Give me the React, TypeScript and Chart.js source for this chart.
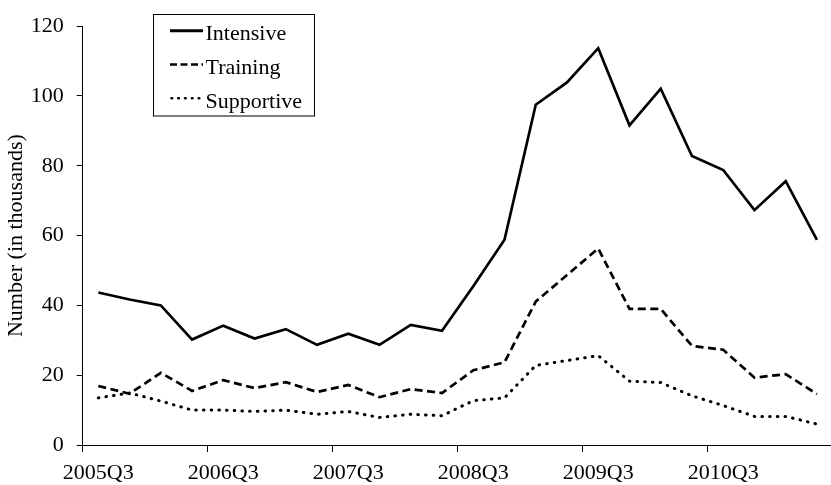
import React, { useEffect, useRef } from "react";
import { Chart, registerables } from "chart.js";

Chart.register(...registerables);

const quarters = [
  "2005Q3", "2005Q4", "2006Q1", "2006Q2", "2006Q3", "2006Q4", "2007Q1", "2007Q2",
  "2007Q3", "2007Q4", "2008Q1", "2008Q2", "2008Q3", "2008Q4", "2009Q1", "2009Q2",
  "2009Q3", "2009Q4", "2010Q1", "2010Q2", "2010Q3", "2010Q4", "2011Q1", "2011Q2",
];

const intensive = [
  43.7, 41.7, 40.0, 30.2, 34.2, 30.5, 33.2, 28.7, 31.9, 28.7, 34.4, 32.7,
  45.5, 58.8, 97.5, 103.9, 113.7, 91.6, 102.1, 82.8, 78.8, 67.3, 75.6, 58.8,
];
const training = [
  16.9, 14.7, 20.7, 15.5, 18.6, 16.3, 18.0, 15.2, 17.2, 13.7, 16.0, 14.9,
  21.4, 23.7, 41.1, 48.7, 56.3, 39.0, 39.0, 28.4, 27.3, 19.3, 20.3, 14.6,
];
const supportive = [
  13.5, 14.9, 12.6, 10.0, 10.0, 9.6, 10.0, 8.8, 9.6, 7.9, 8.8, 8.4,
  12.7, 13.5, 22.8, 24.2, 25.6, 18.3, 17.9, 14.1, 11.3, 8.2, 8.2, 6.0,
];

const xTickLabels = ["2005Q3", "2006Q3", "2007Q3", "2008Q3", "2009Q3", "2010Q3"];
const yTicks = [0, 20, 40, 60, 80, 100, 120];

const FONT = '"Liberation Serif", "Times New Roman", serif';

const legendPlugin = {
  id: "boxLegend",
  afterDraw(chart: any) {
    const ctx = chart.ctx as CanvasRenderingContext2D;
    ctx.save();
    ctx.strokeStyle = "#000";
    ctx.lineWidth = 1;
    ctx.setLineDash([]);
    ctx.strokeRect(153.5, 14.5, 161, 101.5);
    const legendDash = [[], [7, 3.5], [0.6, 6.2]];
    const legendCap = ["butt", "butt", "round"];
    chart.data.datasets.forEach((ds: any, i: number) => {
      const y = 30.7 + i * 33.8;
      ctx.beginPath();
      ctx.setLineDash(legendDash[i]);
      ctx.lineCap = legendCap[i] as CanvasLineCap;
      ctx.lineWidth = i === 0 ? 3 : 2.6;
      ctx.strokeStyle = "#000";
      ctx.moveTo(i === 2 ? 171.5 : 170, y);
      ctx.lineTo(203, y);
      ctx.stroke();
      ctx.setLineDash([]);
      ctx.fillStyle = "#000";
      ctx.font = `22px ${FONT}`;
      ctx.textBaseline = "alphabetic";
      ctx.textAlign = "left";
      ctx.fillText(ds.label, 205.5, y + 9.2);
    });
    ctx.restore();
  },
};

export default function App() {
  const canvasRef = useRef<HTMLCanvasElement | null>(null);

  useEffect(() => {
    document.body.style.margin = "0";
    const canvas = canvasRef.current!;
    const toPts = (arr: number[]) => arr.map((v, i) => ({ x: i, y: v }));
    const chart = new Chart(canvas, {
      type: "line",
      data: {
        labels: quarters,
        datasets: [
          {
            label: "Intensive",
            data: toPts(intensive),
            borderColor: "#000",
            borderWidth: 2.7,
            pointRadius: 0,
            tension: 0,
            fill: false,
          },
          {
            label: "Training",
            data: toPts(training),
            borderColor: "#000",
            borderWidth: 2.7,
            borderDash: [8, 4.5],
            pointRadius: 0,
            tension: 0,
            fill: false,
          },
          {
            label: "Supportive",
            data: toPts(supportive),
            borderColor: "#000",
            borderWidth: 3,
            borderDash: [0.6, 7.1],
            borderCapStyle: "round",
            pointRadius: 0,
            tension: 0,
            fill: false,
          },
        ] as any,
      },
      options: {
        animation: false,
        responsive: false,
        maintainAspectRatio: false,
        devicePixelRatio: 1,
        layout: { padding: { top: 15, right: 0, bottom: 0, left: 0 } },
        plugins: {
          legend: { display: false },
          tooltip: { enabled: false },
        },
        scales: {
          x: {
            type: "linear",
            min: -0.5,
            max: 23.45,
            afterBuildTicks: (scale: any) => {
              scale.ticks = xTickLabels.map((_, i) => ({ value: i * 4 - 0.5 }));
            },
            afterFit: (scale: any) => {
              scale.height = 40;
            },
            grid: {
              drawOnChartArea: false,
              drawTicks: true,
              tickLength: 7,
              tickColor: "#000",
              tickWidth: 1,
            },
            border: { display: true, color: "#000", width: 1 },
            ticks: {
              autoSkip: false,
              maxRotation: 0,
              minRotation: 0,
              padding: 8,
              labelOffset: 15.6,
              color: "#000",
              font: { family: FONT, size: 22 },
              callback: (_v: any, i: number) => xTickLabels[i],
            },
          },
          y: {
            min: 0,
            max: 120,
            afterBuildTicks: (scale: any) => {
              scale.ticks = yTicks.map((v) => ({ value: v }));
            },
            afterFit: (scale: any) => {
              scale.width = 82.7;
            },
            grid: {
              drawOnChartArea: false,
              drawTicks: true,
              tickLength: 6,
              tickColor: "#000",
              tickWidth: 1,
            },
            border: { display: true, color: "#000", width: 1 },
            ticks: {
              padding: 13,
              color: "#000",
              font: { family: FONT, size: 22 },
            },
            title: {
              display: true,
              text: "Number (in thousands)",
              color: "#000",
              font: { family: FONT, size: 22 },
              padding: { top: 3, bottom: 0 },
            },
          },
        },
      },
      plugins: [legendPlugin],
    });
    return () => chart.destroy();
  }, []);

  return (
    <div style={{ width: 831, height: 485, position: "relative", background: "#fff" }}>
      <canvas ref={canvasRef} width={831} height={485} style={{ display: "block" }} />
    </div>
  );
}
